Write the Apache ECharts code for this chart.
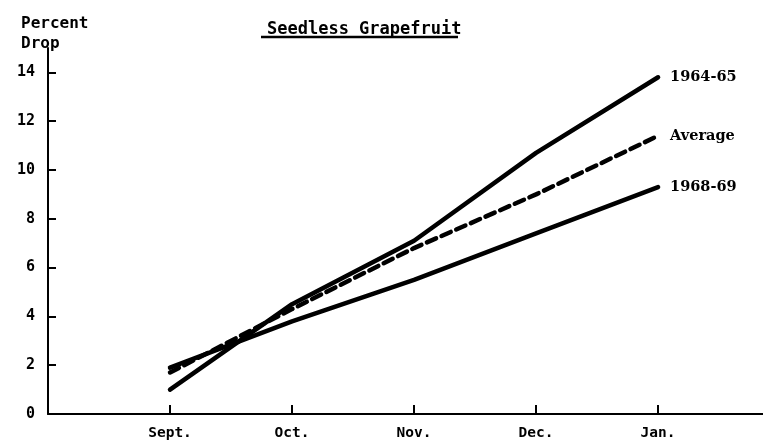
<!DOCTYPE html>
<html>
<head>
<meta charset="utf-8">
<script src="https://cdn.jsdelivr.net/npm/echarts@6/dist/echarts.min.js"></script>
<style>html,body{margin:0;padding:0;background:#fff}#c{width:763px;height:442px}</style>
</head>
<body>
<div id="c"></div>
<script>
// Data
var months = ['Sept.', 'Oct.', 'Nov.', 'Dec.', 'Jan.'];
var s6465 = [1.0, 4.5, 7.1, 10.7, 13.8];
var sAvg = [1.7, 4.3, 6.8, 9.0, 11.4];
var s6869 = [1.9, 3.8, 5.5, 7.4, 9.3];
var yTicks = [0, 2, 4, 6, 8, 10, 12, 14];
var xTicks = [1, 2, 3, 4, 5];

function pts(arr) { return arr.map(function (v, i) { return [i + 1, v]; }); }

var mono = '"DejaVu Sans Mono", "Liberation Mono", monospace';
var serif = '"DejaVu Serif", "Liberation Serif", serif';
var ink = '#000';

var chart = echarts.init(document.getElementById('c'), null, { renderer: 'canvas' });

function lineSeries(name, arr, dashed) {
  return {
    name: name,
    type: 'line',
    data: pts(arr),
    symbol: 'none',
    silent: true,
    lineStyle: { color: ink, width: 4.5, type: dashed ? [10, 6] : 'solid', cap: 'round' },
    endLabel: {
      show: true,
      formatter: '{a}',
      distance: 12,
      color: ink,
      fontFamily: serif,
      fontWeight: 'bold',
      fontSize: 14.5
    }
  };
}

chart.setOption({
  animation: false,
  backgroundColor: '#fff',
  title: [
    { text: 'Seedless Grapefruit', left: 262, top: 16,
      textStyle: { fontFamily: mono, fontWeight: 'bold', fontSize: 17, color: ink } },
    { text: 'Percent\nDrop', left: 16, top: 9,
      textStyle: { fontFamily: mono, fontWeight: 'bold', fontSize: 16, lineHeight: 20, color: ink } }
  ],
  graphic: [
    { type: 'line', shape: { x1: 261, y1: 37, x2: 458, y2: 37 }, style: { stroke: ink, lineWidth: 2.5 } }
  ],
  grid: { left: 48, right: 0, top: 48, bottom: 28, containLabel: false },
  xAxis: {
    type: 'value',
    min: 0,
    max: 5.86,
    interval: 1,
    splitLine: { show: false },
    axisLine: { show: true, lineStyle: { color: ink, width: 2 } },
    axisTick: { show: true, inside: true, length: 9, customValues: xTicks, lineStyle: { color: ink, width: 2 } },
    axisLabel: {
      customValues: xTicks,
      formatter: function (v) { return months[Math.round(v) - 1] || ''; },
      margin: 12, color: ink, fontFamily: mono, fontWeight: 'bold', fontSize: 14.5
    }
  },
  yAxis: {
    type: 'value',
    min: 0,
    max: 15,
    interval: 2,
    splitLine: { show: false },
    axisLine: { show: true, lineStyle: { color: ink, width: 2 } },
    axisTick: { show: true, inside: true, length: 8, customValues: yTicks, lineStyle: { color: ink, width: 2 } },
    axisLabel: {
      customValues: yTicks,
      margin: 13, color: ink, fontFamily: mono, fontWeight: 'bold', fontSize: 15
    }
  },
  series: [
    lineSeries('1964-65', s6465, false),
    lineSeries('Average', sAvg, true),
    lineSeries('1968-69', s6869, false)
  ]
});
</script>
</body>
</html>
